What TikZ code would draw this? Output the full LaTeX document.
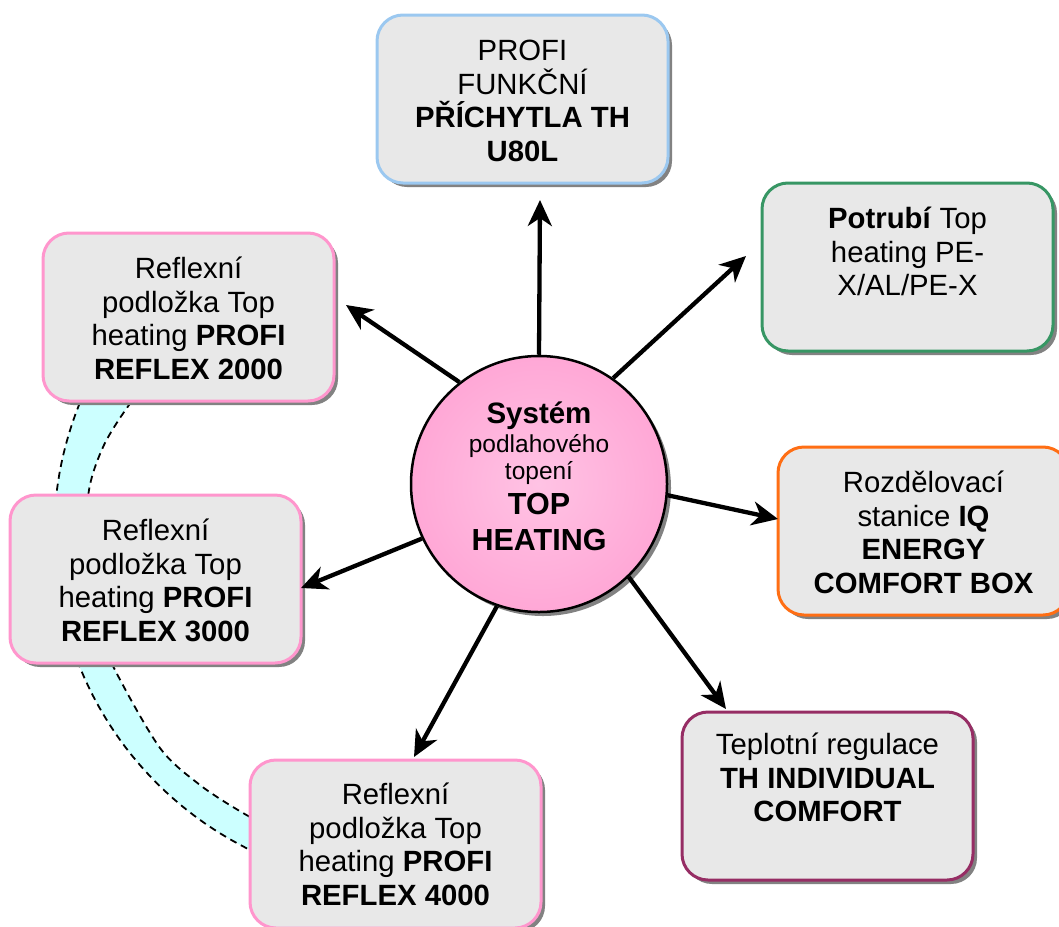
\documentclass[tikz,border=0pt]{standalone}
\usepackage{fontspec}
\setmainfont{Liberation Sans}
\usetikzlibrary{arrows.meta,shadows}
\definecolor{boxfill}{RGB}{232,232,232}
\definecolor{cblue}{RGB}{155,200,240}
\definecolor{cgreen}{RGB}{55,150,100}
\definecolor{corange}{RGB}{255,110,20}
\definecolor{cplum}{RGB}{150,45,100}
\definecolor{cpink}{RGB}{255,150,205}
\definecolor{cband}{RGB}{204,255,255}
\definecolor{pin}{RGB}{255,195,228}
\definecolor{pout}{RGB}{255,140,200}
\definecolor{shadegray}{RGB}{130,130,130}
\pgfdeclareradialshading{pinkball}{\pgfpoint{0bp}{0bp}}{color(0bp)=(pin); color(50bp)=(pout)}
\tikzset{
  infobox/.style={draw=#1, line width=3pt, fill=boxfill, rounded corners=26pt,
    minimum width=291pt, minimum height=168pt, inner sep=0pt,
    drop shadow={shadow xshift=4pt, shadow yshift=-4pt, fill=shadegray, opacity=1}},
  boxtext/.style={anchor=north, align=center, inner sep=0pt,
    font=\fontsize{29.3}{33.5}\selectfont},
  link/.style={line width=4.3pt, -{Stealth[length=26pt,width=24pt,inset=8pt]}},
  bandedge/.style={line width=1.8pt, dash pattern=on 7pt off 5pt},
}
\begin{document}
\begin{tikzpicture}[x=1pt,y=-1pt]
\useasboundingbox (0,0) rectangle (1059,926);
% band behind the reflex boxes
\fill[cband] plot[domain=208:112, samples=60] ({405+351*cos(\x)},{535+351*sin(\x)})
  -- plot[smooth] coordinates {(290,838) (243,813) (200,785) (160,748) (115,670) (95,620) (85,560) (89,490) (104,445) (129,405) (155,375)} -- cycle;
\draw[bandedge] plot[domain=208:112, samples=60] ({405+351*cos(\x)},{535+351*sin(\x)});
\draw[bandedge] plot[smooth] coordinates {(155,375) (129,405) (104,445) (89,490) (85,560) (95,620) (115,670) (160,748) (200,785) (243,813) (290,838)};

% centre
\node[circle, minimum size=256pt, inner sep=0pt, draw=black, line width=2.5pt, shade, shading=pinkball,
  drop shadow={shadow xshift=4pt, shadow yshift=-4pt, fill=shadegray, opacity=1}] (c) at (539,484) {};
\node[anchor=north, align=center, inner sep=0pt, font=\fontsize{24.5}{30}\selectfont] (ct) at (539,395)
  {\rule{0pt}{28pt}\fontsize{29.5}{30}\selectfont\textbf{Systém}\\[-1pt]
   podlahového\\[-3pt]
   topení\\[5pt]
   \fontsize{30.5}{30}\selectfont\textbf{TOP}\\[6pt]
   \fontsize{30.5}{30}\selectfont\textbf{HEATING}};

% boxes
\node[infobox=cblue]   (b1) at (522.5,99) {};
\node[infobox=cgreen]  (b2) at (907.5,267) {};
\node[infobox=corange] (b3) at (923.5,531) {};
\node[infobox=cplum]   (b4) at (827.5,796) {};
\node[infobox=cpink]   (b5) at (395.5,844) {};
\node[infobox=cpink]   (b6) at (155.5,579) {};
\node[infobox=cpink]   (b7) at (188.5,317) {};

\node[boxtext] (t1) at ([yshift=-19pt]b1.north)
  {\rule{0pt}{28pt}PROFI\\FUNKČNÍ\\\textbf{PŘÍCHYTLA TH}\\\textbf{U80L}};
\node[boxtext] (t2) at ([yshift=-19pt]b2.north)
  {\rule{0pt}{28pt}\textbf{Potrubí} Top\\heating PE-\\X/AL/PE-X};
\node[boxtext] (t3) at ([yshift=-19pt]b3.north)
  {\rule{0pt}{28pt}Rozdělovací\\stanice \textbf{IQ}\\\textbf{ENERGY}\\\textbf{COMFORT BOX}};
\node[boxtext] (t4) at ([yshift=-16pt]b4.north)
  {\rule{0pt}{28pt}Teplotní regulace\\\textbf{TH INDIVIDUAL}\\\textbf{COMFORT}};
\node[boxtext] (t5) at ([yshift=-18pt]b5.north)
  {\rule{0pt}{28pt}Reflexní\\podložka Top\\heating \textbf{PROFI}\\\textbf{REFLEX 4000}};
\node[boxtext] (t6) at ([yshift=-19pt]b6.north)
  {\rule{0pt}{28pt}Reflexní\\podložka Top\\heating \textbf{PROFI}\\\textbf{REFLEX 3000}};
\node[boxtext] (t7) at ([yshift=-19pt]b7.north)
  {\rule{0pt}{28pt}Reflexní\\podložka Top\\heating \textbf{PROFI}\\\textbf{REFLEX 2000}};

% arrow tips
\coordinate (p1) at (540,200);
\coordinate (p2) at (746,256);
\coordinate (p3) at (778,519);
\coordinate (p4) at (726,709);
\coordinate (p5) at (414,757);
\coordinate (p6) at (301,588);
\coordinate (p7) at (346,305);

\draw[link] (c.90) -- (p1);
\draw[link] (c.55) -- (p2);
\draw[link] (c.-5) -- (p3);
\draw[link] (c.-46) -- (p4);
\draw[link] (c.-109) -- (p5);
\draw[link] (c.-155) -- (p6);
\draw[link] (c.128) -- (p7);
\end{tikzpicture}
\end{document}
